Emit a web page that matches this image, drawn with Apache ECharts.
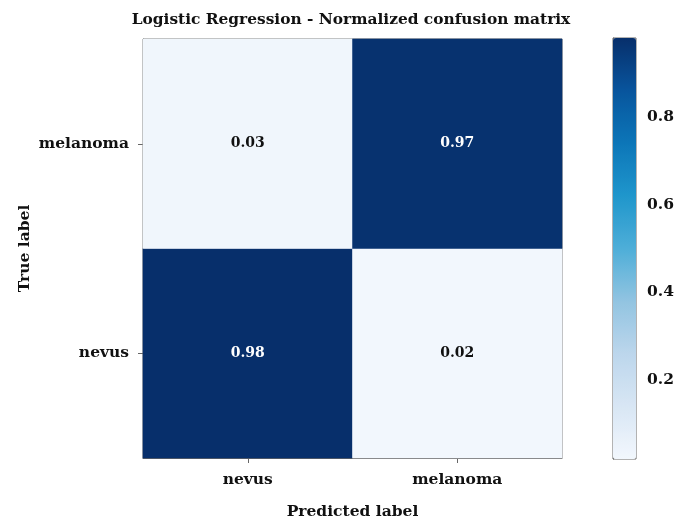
<!DOCTYPE html>
<html>
<head>
<meta charset="utf-8">
<script src="https://cdn.jsdelivr.net/npm/echarts@6/dist/echarts.min.js"></script>
<style>html,body{margin:0;padding:0;background:#fff}#c{width:682px;height:529px}</style>
</head>
<body>
<div id="c"></div>
<script>
const title = 'Logistic Regression - Normalized confusion matrix';
const predictedLabels = ['nevus', 'melanoma'];
const trueLabels = ['nevus', 'melanoma']; // bottom to top
const rowNevus = [0.98, 0.02];
const rowMelanoma = [0.03, 0.97];
const colorbarTicks = [0.2, 0.4, 0.6, 0.8];
const valueMin = 0.02, valueMax = 0.98;

const rows = [rowNevus, rowMelanoma];
const data = [];
rows.forEach((r, yi) => r.forEach((v, xi) => data.push({
  value: [xi, yi, v], label: {color: v > 0.5 ? '#fff' : '#111'}
})));

const font = 'DejaVu Serif';
const fs = 15.5;
const lineCol = '#666';
const chart = echarts.init(document.getElementById('c'));
chart.setOption({
  animation: false,
  title: {text: title, left: 346, textAlign: 'center', top: 7,
    textStyle: {fontFamily: font, fontWeight: 'bold', fontSize: 15.4, color: '#111'}},
  grid: [
    {left: 143, top: 39, width: 419, height: 419, show: true, borderColor: lineCol, borderWidth: 1},
    {left: 613, top: 38, width: 23, height: 421, show: true, borderColor: lineCol, borderWidth: 1, backgroundColor: 'transparent'}
  ],
  xAxis: [
    {type: 'category', data: predictedLabels, gridIndex: 0,
     name: 'Predicted label', nameLocation: 'middle', nameGap: 46,
     nameTextStyle: {fontFamily: font, fontWeight: 'bold', fontSize: fs, color: '#111'},
     axisLine: {show: true, lineStyle: {color: lineCol}},
     axisTick: {show: true, alignWithLabel: true, length: 5, lineStyle: {color: lineCol}},
     axisLabel: {fontFamily: font, fontWeight: 'bold', fontSize: fs, color: '#111', margin: 14},
     splitLine: {show: false}},
    {type: 'value', gridIndex: 1, show: false}
  ],
  yAxis: [
    {type: 'category', data: trueLabels, gridIndex: 0,
     name: 'True label', nameLocation: 'middle', nameGap: 110, nameRotate: 90, nameMoveOverlap: false,
     nameTextStyle: {fontFamily: font, fontWeight: 'bold', fontSize: fs, color: '#111'},
     axisLine: {show: true, lineStyle: {color: lineCol}},
     axisTick: {show: true, alignWithLabel: true, length: 5, lineStyle: {color: lineCol}},
     axisLabel: {fontFamily: font, fontWeight: 'bold', fontSize: fs, color: '#111', margin: 14},
     splitLine: {show: false}},
    {type: 'value', gridIndex: 1, position: 'right', min: valueMin, max: valueMax,
     axisLine: {show: true, lineStyle: {color: lineCol}},
     axisTick: {show: true, length: 5, customValues: colorbarTicks, lineStyle: {color: lineCol}},
     axisLabel: {customValues: colorbarTicks, fontFamily: font, fontWeight: 'bold', fontSize: fs, color: '#111', margin: 11,
       formatter: v => v.toFixed(1)},
     splitLine: {show: false}}
  ],
  visualMap: {
    type: 'continuous', min: valueMin, max: valueMax, calculable: false, show: true,
    seriesIndex: 0, left: 613, top: 38, itemWidth: 23, itemHeight: 421, padding: 0,
    text: ['', ''], showLabel: false,
    inRange: {color: ['#f2f7fd', '#d8e6f4', '#bcd6ec', '#92c4e1', '#4eaed8', '#1f96cc', '#0c76b8', '#08559d', '#072f6b']}
  },
  series: [{
    type: 'heatmap', xAxisIndex: 0, yAxisIndex: 0, data: data,
    label: {show: true, fontFamily: font, fontWeight: 'bold', fontSize: 14,
      formatter: p => p.value[2].toFixed(2)},
    itemStyle: {borderWidth: 0}
  }]
});
</script>
</body>
</html>
